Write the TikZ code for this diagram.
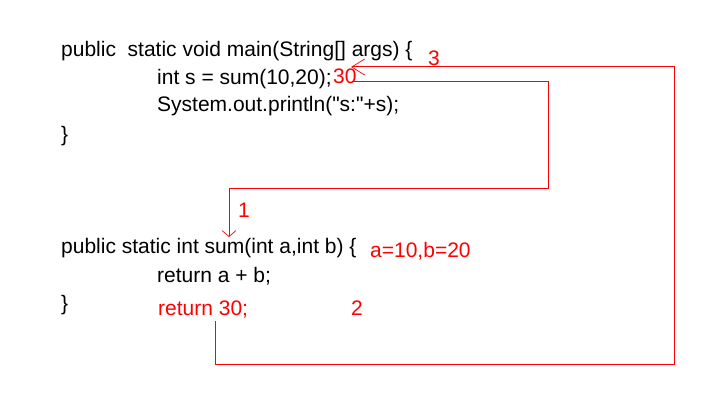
\documentclass[tikz,border=0pt]{standalone}
\usepackage{fontspec}
\setmainfont{Liberation Sans}[Ligatures=TeXOff]
\usetikzlibrary{arrows.meta}
\definecolor{lred}{RGB}{255,0,0}
\tikzset{
  code/.style={anchor=base west,inner sep=0pt,font=\fontsize{21}{24}\selectfont,text=black},
  redtxt/.style={code,text=lred},
  flow/.style={draw=lred,line width=1pt},
}
\begin{document}
\begin{tikzpicture}[x=1pt,y=-1pt]
\useasboundingbox[fill=white] (0,0) rectangle (728,414);
% main method
\node[code] (m1) at (61,57) {public\ \ static void main(String[] args) \{};
\node[code] (m2) at (157,85) {int s = sum(10,20);};
\node[redtxt] (r30) at (333,84) {30};
\node[code] (m3) at (157,112) {System.out.println("s:"+s);};
\node[code] (m4) at (61,142) {\}};
\node[redtxt] (n3) at (428,66) {3};
% sum method
\node[code] (s1) at (61,253) {public static int sum(int a,int b) \{};
\node[redtxt] (ab) at (370,258) {a=10,b=20};
\node[code] (s2) at (157,282) {return a + b;};
\node[code] (s3) at (61,310) {\}};
\node[redtxt] (s4) at (158,315) {return 30;};
\node[redtxt] (n2) at (351,315) {2};
\node[redtxt] (n1) at (238,218) {1};
% connectors
\coordinate (p1s) at (352,82);
\coordinate (p1b) at (548,189);
\coordinate (p1e) at (229,237);
\draw[flow,-{Straight Barb[length=6pt,width=14pt,line width=0.7pt]}] (p1s) -| (p1b) -| (p1e);
\coordinate (p2s) at (215,321);
\coordinate (p2b) at (674,364);
\coordinate (p2e) at (351,67);
\draw[flow,-{Straight Barb[length=13pt,width=16pt,line width=0.7pt]}] (p2s) |- (p2b) |- (p2e);
\end{tikzpicture}
\end{document}
